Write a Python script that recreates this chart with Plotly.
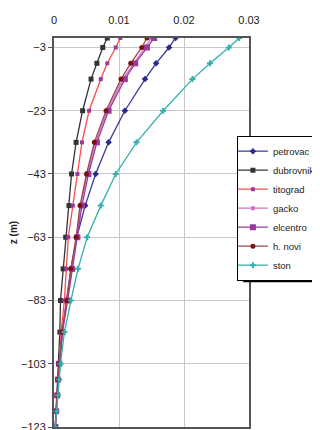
import plotly.graph_objects as go

depth = [0, -3, -8, -13, -23, -33, -43, -53, -63, -73, -83, -93, -103, -108, -113, -118, -123]

petrovac  = [0.0187, 0.0177, 0.0157, 0.0140, 0.0109, 0.0084, 0.0064, 0.0048, 0.0035, 0.0026, 0.0019, 0.0013, 0.0009, 0.0007, 0.0005, 0.0003, 0.0002]
dubrovnik = [0.0082, 0.0075, 0.0066, 0.0057, 0.0044, 0.0034, 0.0027, 0.0023, 0.0018, 0.0014, 0.0010, 0.0009, 0.0007, 0.0006, 0.0005, 0.0003, 0.0002]
titograd  = [0.0102, 0.0095, 0.0082, 0.0072, 0.0054, 0.0043, 0.0036, 0.0029, 0.0022, 0.0019, 0.0016, 0.0011, 0.0008, 0.0006, 0.0005, 0.0003, 0.0002]
gacko     = [0.0150, 0.0140, 0.0122, 0.0106, 0.0082, 0.0064, 0.0051, 0.0041, 0.0035, 0.0027, 0.0020, 0.0012, 0.0008, 0.0006, 0.0005, 0.0003, 0.0002]
elcentro  = [0.0154, 0.0143, 0.0125, 0.0109, 0.0084, 0.0066, 0.0053, 0.0043, 0.0036, 0.0028, 0.0021, 0.0013, 0.0008, 0.0006, 0.0005, 0.0003, 0.0002]
hnovi     = [0.0143, 0.0135, 0.0118, 0.0103, 0.0080, 0.0062, 0.0050, 0.0040, 0.0034, 0.0026, 0.0020, 0.0012, 0.0008, 0.0006, 0.0005, 0.0003, 0.0002]
ston      = [0.0285, 0.0269, 0.0240, 0.0213, 0.0168, 0.0127, 0.0095, 0.0072, 0.0051, 0.0037, 0.0026, 0.0016, 0.0010, 0.0008, 0.0006, 0.0004, 0.0002]

names = ["petrovac", "dubrovnik", "titograd", "gacko", "elcentro", "h. novi", "ston"]
series = [petrovac, dubrovnik, titograd, gacko, elcentro, hnovi, ston]
line_colors = ["#3a3a9a", "#333333", "#ff4a4a", "#d070c8", "#9a3aa0", "#a04848", "#33b0aa"]
marker_colors = ["#2a2a8a", "#333333", "#9a3aa0", "#d070c8", "#9a3aa0", "#7a1010", "#33b0aa"]
symbols = ["diamond", "square", "square", "square", "square", "circle", "cross"]
msizes = [5, 5, 4, 4, 6, 5, 5]

xticks = [0, 0.01, 0.02, 0.03]
xticktext = ["0", "0.01", "0.02", "0.03"]
yticks = [-3, -23, -43, -63, -83, -103, -123]

fig = go.Figure()
for n, s, lc, mc, sym, ms in zip(names, series, line_colors, marker_colors, symbols, msizes):
    fig.add_trace(go.Scatter(
        x=s, y=depth, name=n, mode="lines+markers",
        line=dict(color=lc, width=1.3),
        marker=dict(color=mc, symbol=sym, size=ms),
    ))

# legend drop shadow
fig.add_shape(type="rect", xref="paper", yref="paper",
              x0=0.97, x1=1.6, y0=0.372, y1=0.744,
              fillcolor="black", line=dict(width=0), layer="above")

fig.update_layout(
    width=340, height=430,
    margin=dict(l=46, r=99, t=30, b=11, autoexpand=False),
    paper_bgcolor="white", plot_bgcolor="white",
    font=dict(family="Liberation Sans, Arial, sans-serif", size=11, color="#222222"),
    showlegend=True,
    legend=dict(
        x=0.938, y=0.749, xanchor="left", yanchor="top",
        bgcolor="white", bordercolor="#000000", borderwidth=1,
        font=dict(size=9.5, color="#222222"),
        tracegroupgap=0, itemwidth=30, indentation=-5,
    ),
    xaxis=dict(
        side="top", range=[0, 0.03], tickvals=xticks, ticktext=xticktext,
        showgrid=True, gridcolor="#c8c8c8", gridwidth=1,
        showline=True, linecolor="#555555", linewidth=2, mirror=True,
        ticks="", zeroline=False, ticklabelstandoff=8, automargin=False,
    ),
    yaxis=dict(
        range=[-123, 0], tickvals=yticks,
        showgrid=True, gridcolor="#c8c8c8", gridwidth=1,
        showline=True, linecolor="#555555", linewidth=2, mirror=True,
        ticks="outside", ticklen=4, tickcolor="#555555", zeroline=False,
        automargin=False,
        title=dict(text="<b>z (m)</b>", font=dict(size=10), standoff=2),
    ),
)

fig.write_html("out.html")
